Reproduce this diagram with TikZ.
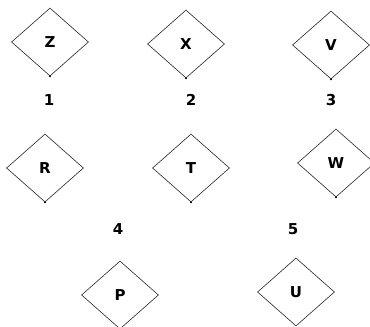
\documentclass[tikz,border=0pt]{standalone}
\usepackage{fontspec}
\setmainfont{DejaVu Sans}
\usetikzlibrary{shapes.geometric}

\tikzset{
	box/.style={diamond, draw=black!85, line width=0.6pt, inner sep=0pt,
		minimum width=77pt, minimum height=68pt, font=\fontsize{15}{17}\selectfont\bfseries},
	num/.style={font=\fontsize{15}{17}\selectfont\bfseries},
	tip/.style={fill=black, circle, inner sep=0pt, minimum size=2.2pt}
}

\begin{document}
\begin{tikzpicture}[x=1pt, y=-1pt]
	
	\useasboundingbox (0,0) rectangle (370,327);
	
	% First row
	\node[box] (z) at (50,42)  {Z};
	\node[box] (x) at (186,44) {X};
	\node[box] (v) at (331,45) {V};
	
	\node[num] (n1) at (49,100)  {1};
	\node[num] (n2) at (191,100) {2};
	\node[num] (n3) at (331,100) {3};
	
	% Second row
	\node[box] (r) at (45,168)  {R};
	\node[box] (t) at (191,168) {T};
	\node[box] (w) at (336,163) {W};
	
	\node[num] (n4) at (118,229) {4};
	\node[num] (n5) at (293,229) {5};
	
	% Third row
	\node[box] (p) at (120,295) {P};
	\node[box] (u) at (296,292) {U};
	
	% Dots at the lower corners
	\foreach \d in {z,x,v,r,t,w}
		\node[tip] at (\d.south) {};
	
\end{tikzpicture}
\end{document}
